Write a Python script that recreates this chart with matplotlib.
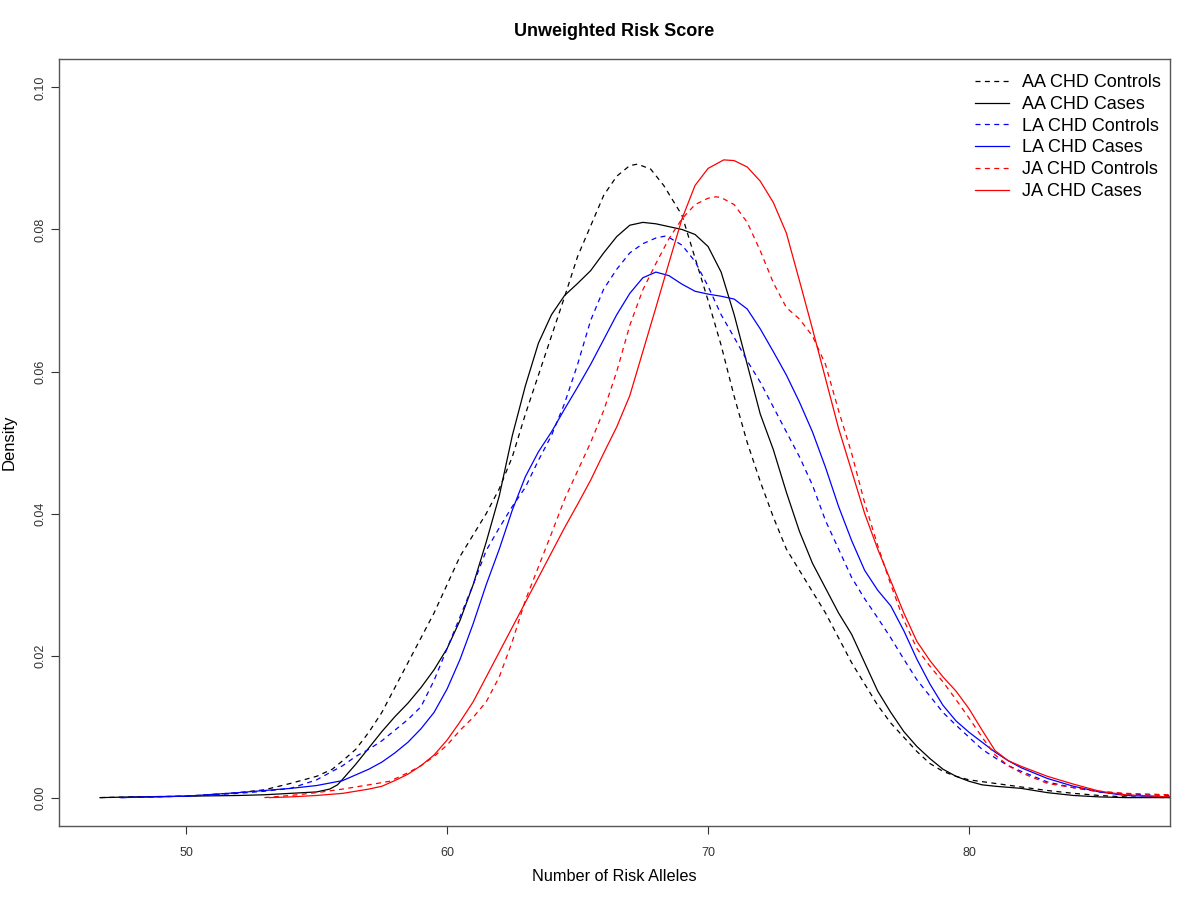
import matplotlib
matplotlib.use("Agg")
import matplotlib.pyplot as plt

plt.rcParams['font.family'] = ['Liberation Sans', 'DejaVu Sans']

# values (x = number of risk alleles, y = density)
aa_ctrl_x = [46.7, 48, 50, 52, 53, 54, 55, 55.6, 56, 56.5, 57, 57.5, 58, 58.5, 59, 59.5, 60, 60.5, 61, 61.5,
             62, 62.5, 63, 63.5, 64, 64.5, 65, 65.5, 66, 66.5, 67, 67.3, 67.8, 68.3, 69, 69.5, 70, 70.5,
             71, 71.5, 72, 72.5, 73, 73.5, 74, 74.5, 75, 75.5, 76, 76.5, 77, 77.5, 78, 78.5, 79, 79.5,
             80, 81, 82, 83, 84, 85, 86, 87.7]
aa_ctrl_y = [0, 0.0001, 0.0002, 0.0007, 0.0011, 0.002, 0.003, 0.004, 0.0052, 0.0068, 0.0092, 0.012, 0.0155,
             0.019, 0.0225, 0.026, 0.030, 0.034, 0.037, 0.040, 0.0435, 0.048, 0.054, 0.0595, 0.065, 0.0705,
             0.0762, 0.0805, 0.0848, 0.0875, 0.089, 0.0892, 0.0885, 0.0862, 0.082, 0.076, 0.070, 0.0637,
             0.0565, 0.050, 0.0445, 0.0395, 0.035, 0.032, 0.029, 0.026, 0.0225, 0.019, 0.016, 0.013, 0.0105,
             0.0085, 0.0065, 0.0048, 0.0037, 0.003, 0.0025, 0.002, 0.0015, 0.001, 0.0006, 0.0003, 0.0001, 0]

aa_case_x = [46.7, 48, 50, 52, 53, 54, 55, 55.5, 55.8, 56, 56.5, 57, 57.5, 58, 58.5, 59, 59.5, 60, 60.5, 61,
             61.5, 62, 62.5, 63, 63.5, 64, 64.5, 65, 65.5, 66, 66.5, 67, 67.5, 68, 68.5, 69, 69.5, 70, 70.5,
             71, 71.5, 72, 72.5, 73, 73.5, 74, 74.5, 75, 75.5, 76, 76.5, 77, 77.5, 78, 78.5, 79, 79.5, 80,
             80.5, 81, 82, 83, 84, 85, 86, 87.7]
aa_case_y = [0, 0.0001, 0.0002, 0.0003, 0.0004, 0.0006, 0.0008, 0.0012, 0.0018, 0.0026, 0.0047, 0.007, 0.0093,
             0.0114, 0.0133, 0.0155, 0.018, 0.021, 0.025, 0.030, 0.036, 0.0425, 0.051, 0.058, 0.064, 0.068,
             0.0707, 0.0724, 0.0742, 0.0767, 0.079, 0.0806, 0.081, 0.0808, 0.0804, 0.080, 0.0793, 0.0776,
             0.074, 0.068, 0.061, 0.054, 0.049, 0.043, 0.0375, 0.033, 0.0295, 0.026, 0.023, 0.019, 0.015,
             0.012, 0.0093, 0.0072, 0.0055, 0.004, 0.003, 0.0023, 0.0018, 0.0016, 0.0013, 0.0007, 0.0003,
             0.0001, 0, 0]

la_ctrl_x = [47.5, 50, 52, 53, 54, 55, 55.6, 56, 56.5, 57, 57.5, 58, 58.5, 59, 59.5, 60, 60.5, 61, 61.5, 62,
             62.5, 63, 63.5, 64, 64.5, 65, 65.5, 66, 66.5, 67, 67.5, 68, 68.4, 69, 69.5, 70, 70.5, 71, 71.5,
             72, 72.5, 73, 73.5, 74, 74.5, 75, 75.5, 76, 76.5, 77, 77.5, 78, 78.5, 79, 79.5, 80, 80.5, 81,
             81.5, 82, 83, 84, 85, 86, 87.7]
la_ctrl_y = [0, 0.0002, 0.0006, 0.0009, 0.0013, 0.0025, 0.0037, 0.0045, 0.0058, 0.0068, 0.008, 0.0095, 0.011,
             0.0128, 0.0165, 0.021, 0.0255, 0.030, 0.0348, 0.038, 0.041, 0.0437, 0.0475, 0.051, 0.0555, 0.061,
             0.0672, 0.0716, 0.0744, 0.0767, 0.078, 0.0788, 0.0791, 0.0778, 0.0755, 0.072, 0.068, 0.0648,
             0.0615, 0.0585, 0.055, 0.0515, 0.048, 0.044, 0.039, 0.035, 0.031, 0.028, 0.0253, 0.0225,
             0.0195, 0.0166, 0.0143, 0.012, 0.0102, 0.0085, 0.0068, 0.0056, 0.0045, 0.0037, 0.0022, 0.0014,
             0.0008, 0.0005, 0.0003]

la_case_x = [47.5, 50, 52, 53, 54, 55, 56, 57, 57.5, 58, 58.5, 59, 59.5, 60, 60.5, 61, 61.5, 62, 62.5, 63,
             63.5, 64, 64.5, 65, 65.5, 66, 66.5, 67, 67.5, 68, 68.5, 69, 69.5, 70, 70.5, 71, 71.5, 72, 72.5,
             73, 73.5, 74, 74.5, 75, 75.5, 76, 76.5, 77, 77.5, 78, 78.5, 79, 79.5, 80, 80.5, 81, 81.5, 82,
             83, 84, 85, 86, 87.7]
la_case_y = [0, 0.0002, 0.0007, 0.001, 0.0013, 0.0017, 0.0024, 0.004, 0.005, 0.0063, 0.0078, 0.0097, 0.012,
             0.0153, 0.0195, 0.0245, 0.030, 0.035, 0.0405, 0.0452, 0.0487, 0.0515, 0.0547, 0.0578, 0.061,
             0.0645, 0.068, 0.071, 0.0732, 0.074, 0.0735, 0.0723, 0.0713, 0.0709, 0.0706, 0.0702, 0.0688,
             0.066, 0.0628, 0.0595, 0.0557, 0.0515, 0.0465, 0.041, 0.0362, 0.032, 0.0292, 0.027, 0.0235,
             0.0195, 0.016, 0.013, 0.0108, 0.0092, 0.0078, 0.0064, 0.0052, 0.0042, 0.0027, 0.0016, 0.0008,
             0.0003, 0.0001]

ja_ctrl_x = [53, 54, 55, 56, 57, 57.8, 58.5, 59, 59.5, 60, 60.5, 61, 61.5, 62, 62.5, 63, 63.5, 64, 64.5, 65,
             65.5, 66, 66.5, 67, 67.5, 68, 68.5, 69, 69.5, 70, 70.3, 70.5, 71, 71.5, 72, 72.5, 73, 73.5, 74,
             74.5, 75, 75.5, 76, 76.5, 77, 77.5, 78, 78.5, 79, 79.5, 80, 80.5, 81, 81.5, 82, 83, 84, 85, 86,
             87.7]
ja_ctrl_y = [0, 0.0003, 0.0007, 0.0012, 0.0018, 0.0023, 0.0035, 0.0045, 0.0058, 0.0074, 0.0095, 0.0113, 0.0135,
             0.017, 0.022, 0.0278, 0.0325, 0.0372, 0.042, 0.046, 0.050, 0.0545, 0.060, 0.0665, 0.0715, 0.0752,
             0.0787, 0.0815, 0.0835, 0.0844, 0.0846, 0.0845, 0.0835, 0.081, 0.077, 0.0725, 0.069, 0.0674,
             0.065, 0.061, 0.0545, 0.0485, 0.0415, 0.0355, 0.030, 0.025, 0.021, 0.0185, 0.0163, 0.0138,
             0.0112, 0.0085, 0.006, 0.0045, 0.0035, 0.002, 0.0014, 0.0009, 0.0006, 0.0004]

ja_case_x = [53.2, 54, 55, 56, 57, 57.5, 58, 58.5, 59, 59.5, 60, 60.5, 61, 61.5, 62, 62.5, 63, 63.5, 64, 64.5,
             65, 65.5, 66, 66.5, 67, 67.5, 68, 68.5, 69, 69.5, 70, 70.6, 71, 71.5, 72, 72.5, 73, 73.5, 74,
             74.5, 75, 75.5, 76, 76.5, 77, 77.5, 78, 78.5, 79, 79.5, 80, 80.5, 81, 81.5, 82, 83, 84, 85, 86,
             87.7]
ja_case_y = [0, 0.0001, 0.0003, 0.0006, 0.0012, 0.0016, 0.0024, 0.0033, 0.0045, 0.006, 0.0081, 0.0107, 0.0135,
             0.017, 0.0205, 0.024, 0.0275, 0.031, 0.0345, 0.038, 0.0413, 0.0447, 0.0485, 0.0522, 0.0566,
             0.0628, 0.069, 0.0753, 0.0815, 0.0862, 0.0886, 0.0898, 0.0897, 0.0888, 0.0868, 0.0838, 0.0795,
             0.0728, 0.066, 0.059, 0.052, 0.046, 0.040, 0.035, 0.0305, 0.026, 0.022, 0.0193, 0.017, 0.015,
             0.0125, 0.0095, 0.0066, 0.0052, 0.0044, 0.003, 0.0019, 0.0009, 0.0004, 0.0001]

labels = ["AA CHD Controls", "AA CHD Cases", "LA CHD Controls",
          "LA CHD Cases", "JA CHD Controls", "JA CHD Cases"]

fig = plt.figure(figsize=(12, 9), dpi=100)
ax = fig.add_axes([0.0492, 0.0822, 0.9258, 0.8522])

dash = (0, (4, 3.5))
ax.plot(aa_ctrl_x, aa_ctrl_y, color='black', lw=0.9, linestyle=dash, label=labels[0])
ax.plot(aa_case_x, aa_case_y, color='black', lw=0.9, label=labels[1])
ax.plot(la_ctrl_x, la_ctrl_y, color='#0000FF', lw=0.9, linestyle=dash, label=labels[2])
ax.plot(la_case_x, la_case_y, color='#0000FF', lw=0.9, label=labels[3])
ax.plot(ja_ctrl_x, ja_ctrl_y, color='#FF0000', lw=0.9, linestyle=dash, label=labels[4])
ax.plot(ja_case_x, ja_case_y, color='#FF0000', lw=0.9, label=labels[5])

ax.set_xlim(45.13, 87.7)
ax.set_ylim(-0.004, 0.104)
ax.set_xticks([50, 60, 70, 80])
ax.set_yticks([0.0, 0.02, 0.04, 0.06, 0.08, 0.10])
ax.set_yticklabels(["0.00", "0.02", "0.04", "0.06", "0.08", "0.10"], rotation=90, va='center')
ax.tick_params(direction='out', length=6, width=0.8, labelsize=9, colors='#333333')
ax.tick_params(axis='x', pad=9)
ax.tick_params(axis='y', pad=3)
for s in ax.spines.values():
    s.set_color('#555555')
    s.set_linewidth(1.0)

ax.set_title("Unweighted Risk Score", fontsize=13, fontweight='bold', pad=16.5)
ax.set_xlabel("Number of Risk Alleles", fontsize=11.7, labelpad=7)
ax.set_ylabel("Density", fontsize=12, labelpad=13)

ax.legend(loc='upper right', bbox_to_anchor=(1.006, 1.0), frameon=False, fontsize=13,
          handlelength=1.9, handletextpad=0.75, labelspacing=0.26, borderaxespad=0.45)

fig.savefig("out.png", dpi=100)
